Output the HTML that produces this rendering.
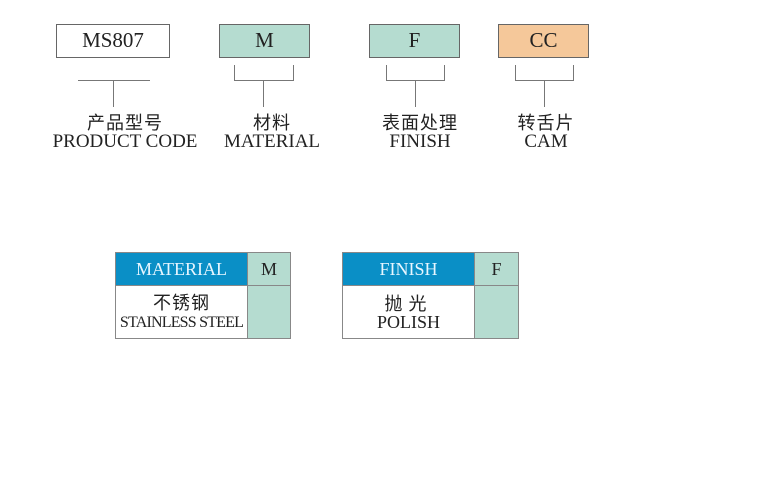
<!DOCTYPE html>
<html><head><meta charset="utf-8"><style>
body{margin:0;width:778px;height:500px;background:#fff;position:relative;font-family:"Liberation Serif","Noto Serif CJK SC",serif;color:#222}
.a{position:absolute;box-sizing:border-box}
.box{border:1px solid #666;text-align:center;font-size:21px;line-height:31px;height:34px}
.ln{position:absolute;background:#777}
.lab{position:absolute;text-align:center;width:200px;font-size:19px;line-height:19px;white-space:nowrap}
.lab .c{font-family:"Noto Sans CJK SC",sans-serif;font-size:18px;line-height:18px;letter-spacing:1px;height:19px}
table{position:absolute;border-collapse:collapse;table-layout:fixed}
td{border:1px solid #888;text-align:center;padding:0;white-space:nowrap;overflow:hidden}
</style></head><body>
<div class="a box" style="left:56px;top:24px;width:114px">MS807</div>
<div class="a box" style="left:219px;top:24px;width:91px;background:#b5dcd0">M</div>
<div class="a box" style="left:369px;top:24px;width:91px;background:#b5dcd0">F</div>
<div class="a box" style="left:498px;top:24px;width:91px;background:#f5c89a">CC</div>

<div class="ln" style="left:78px;top:80px;width:72px;height:1px"></div>
<div class="ln" style="left:113px;top:80px;width:1px;height:27px"></div>

<div class="ln" style="left:234px;top:65px;width:1px;height:15px"></div>
<div class="ln" style="left:293px;top:65px;width:1px;height:15px"></div>
<div class="ln" style="left:234px;top:80px;width:60px;height:1px"></div>
<div class="ln" style="left:263px;top:80px;width:1px;height:27px"></div>

<div class="ln" style="left:386px;top:65px;width:1px;height:15px"></div>
<div class="ln" style="left:444px;top:65px;width:1px;height:15px"></div>
<div class="ln" style="left:386px;top:80px;width:59px;height:1px"></div>
<div class="ln" style="left:415px;top:80px;width:1px;height:27px"></div>

<div class="ln" style="left:515px;top:65px;width:1px;height:15px"></div>
<div class="ln" style="left:573px;top:65px;width:1px;height:15px"></div>
<div class="ln" style="left:515px;top:80px;width:59px;height:1px"></div>
<div class="ln" style="left:544px;top:80px;width:1px;height:27px"></div>

<div class="lab" style="left:25px;top:113px"><div class="c">产品型号</div>PRODUCT CODE</div>
<div class="lab" style="left:172px;top:113px"><div class="c">材料</div>MATERIAL</div>
<div class="lab" style="left:320px;top:113px"><div class="c">表面处理</div>FINISH</div>
<div class="lab" style="left:446px;top:113px"><div class="c">转舌片</div>CAM</div>

<table style="left:115px;top:252px;width:176px;height:87px">
<colgroup><col style="width:132px"><col></colgroup>
<tr style="height:33px"><td style="background:#0a8fc6;color:#e8f6ff;font-size:18px">MATERIAL</td><td style="background:#b5dcd0;font-size:18px">M</td></tr>
<tr><td style="font-size:16px;line-height:18px;letter-spacing:-0.8px"><span style="font-family:'Noto Sans CJK SC',sans-serif;font-size:18px;letter-spacing:1px">不锈钢</span><br>STAINLESS STEEL</td><td style="background:#b5dcd0"></td></tr>
</table>
<table style="left:342px;top:252px;width:177px;height:87px">
<colgroup><col style="width:132px"><col></colgroup>
<tr style="height:33px"><td style="background:#0a8fc6;color:#e8f6ff;font-size:18px">FINISH</td><td style="background:#b5dcd0;font-size:18px">F</td></tr>
<tr><td style="font-size:18px;line-height:18px"><span style="font-family:'Noto Sans CJK SC',sans-serif;letter-spacing:6px">抛光</span><br>POLISH</td><td style="background:#b5dcd0"></td></tr>
</table>
</body></html>
